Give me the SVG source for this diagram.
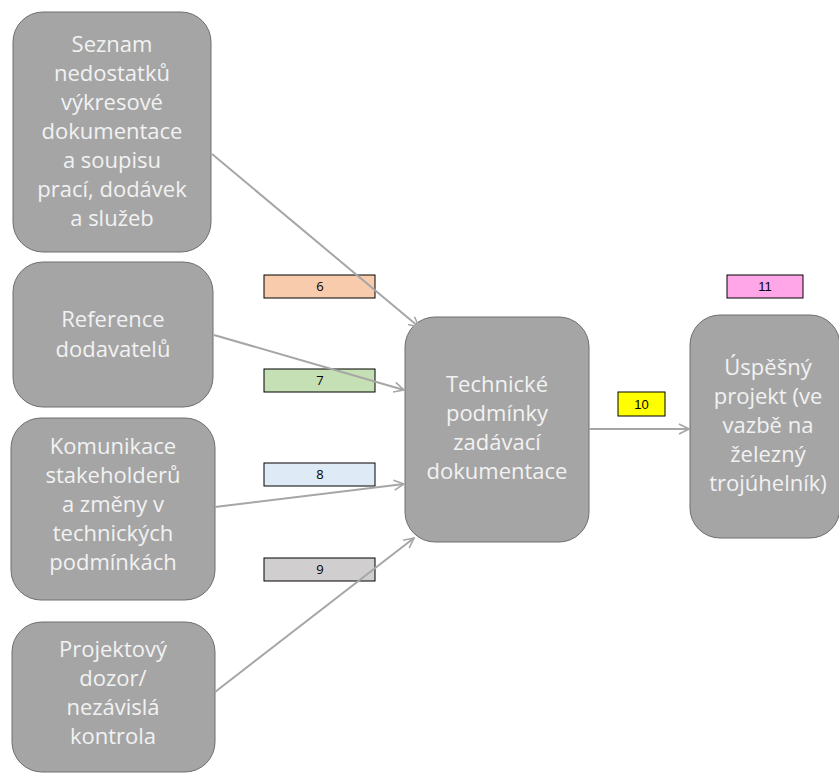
<svg xmlns="http://www.w3.org/2000/svg" width="839" height="774" viewBox="0 0 839 774">
<style>
.node rect{fill:#A5A5A5;stroke:#6E6E6E;stroke-width:1}
.node text{font-family:"Open Sans","Noto Sans",sans-serif;font-size:22px;fill:#F2F2F2;text-anchor:middle}
.lbl rect{stroke:#000;stroke-width:1}
.lbl text{font-family:"Open Sans","Noto Sans",sans-serif;font-size:13px;fill:#000;text-anchor:middle}
.lbl text.a{font-family:"Liberation Sans",Arial,sans-serif}
.conn line{stroke:#A6A6A6;stroke-width:2;fill:none}
</style>
<defs>
<marker id="arr" viewBox="0 0 12 12" refX="11" refY="6" markerWidth="12" markerHeight="12" markerUnits="userSpaceOnUse" orient="auto">
<path d="M1,1 L11,6 L1,11" fill="none" stroke="#A6A6A6" stroke-width="1.6"/>
</marker>
</defs>
<rect width="839" height="774" fill="#fff"/>
<g id="n1" class="node"><rect x="13" y="12" width="198" height="240" rx="30"/>
<text x="112" y="52">Seznam</text><text x="112" y="81">nedostatků</text><text x="112" y="110">výkresové</text><text x="112" y="139">dokumentace</text><text x="112" y="168">a soupisu</text><text x="112" y="197">prací, dodávek</text><text x="112" y="226">a služeb</text></g>
<g id="n2" class="node"><rect x="13" y="262" width="200" height="145" rx="30"/>
<text x="113" y="327">Reference</text><text x="113" y="357">dodavatelů</text></g>
<g id="n3" class="node"><rect x="11" y="418" width="204" height="182" rx="30"/>
<text x="113" y="454">Komunikace</text><text x="113" y="483">stakeholderů</text><text x="113" y="512">a změny v</text><text x="113" y="541">technických</text><text x="113" y="570">podmínkách</text></g>
<g id="n4" class="node"><rect x="12" y="622" width="203" height="150" rx="30"/>
<text x="113" y="657">Projektový</text><text x="113" y="686">dozor/</text><text x="113" y="715">nezávislá</text><text x="113" y="744">kontrola</text></g>
<g id="n5" class="node"><rect x="405" y="317" width="184" height="225" rx="30"/>
<text x="497" y="392">Technické</text><text x="497" y="421">podmínky</text><text x="497" y="450">zadávací</text><text x="497" y="479">dokumentace</text></g>
<g id="n6" class="node"><rect x="690" y="315" width="150" height="223" rx="30"/>
<text x="768" y="375">Úspěšný</text><text x="768" y="404">projekt (ve</text><text x="768" y="433">vazbě na</text><text x="768" y="462">železný</text><text x="768" y="491">trojúhelník)</text></g>
<g id="l6" class="lbl"><rect x="264" y="275" width="111" height="23" fill="#F8CBAD"/><text x="320" y="291">6</text></g>
<g id="l7" class="lbl"><rect x="264" y="369" width="111" height="23" fill="#C5E0B4"/><text x="320" y="385">7</text></g>
<g id="l8" class="lbl"><rect x="264" y="463" width="111" height="23" fill="#DEEBF7"/><text x="320" y="479">8</text></g>
<g id="l9" class="lbl"><rect x="264" y="558" width="111" height="23" fill="#D0CECE"/><text x="320" y="574">9</text></g>
<g id="l10" class="lbl"><rect x="618" y="392" width="47" height="24" fill="#FFFF00"/><text class="a" x="641.5" y="409">10</text></g>
<g id="l11" class="lbl"><rect x="727" y="275" width="76" height="23" fill="#FFA6E8"/><text class="a" x="765" y="291">11</text></g>
<g class="conn">
<line x1="212" y1="154" x2="419" y2="327" marker-end="url(#arr)"/>
<line x1="214" y1="335" x2="404" y2="390" marker-end="url(#arr)"/>
<line x1="215" y1="507" x2="404" y2="484" marker-end="url(#arr)"/>
<line x1="215" y1="692" x2="414" y2="538" marker-end="url(#arr)"/>
<line x1="589" y1="429" x2="689" y2="429" marker-end="url(#arr)"/>
</g>
</svg>
